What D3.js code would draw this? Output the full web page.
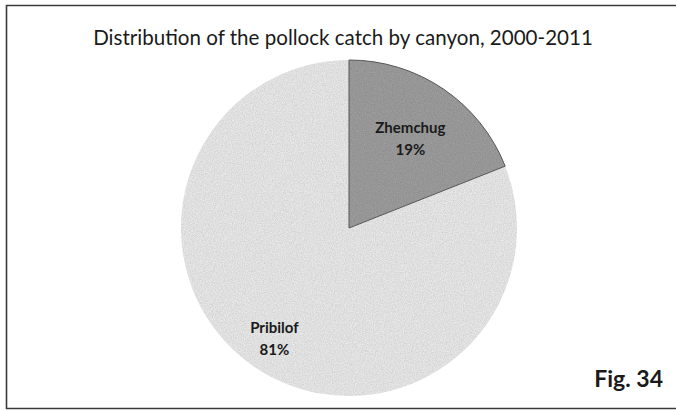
<!DOCTYPE html>
<html>
<head>
<meta charset="utf-8">
<script src="https://cdn.jsdelivr.net/npm/d3@7"></script>
<style>
  html, body { margin: 0; padding: 0; background: #fff; }
  svg { display: block; }
</style>
</head>
<body>
<svg id="chart" width="676" height="411"></svg>
<script>
// Pollock catch share by canyon, 2000-2011
const canyons = ["Zhemchug", "Pribilof"];
const shares = [19, 81];
const sliceColors = ["#9e9e9e", "#eaeaea"];
const chartTitle = "Distribution of the pollock catch by canyon, 2000-2011";
const figureLabel = "Fig. 34";

const W = 676, H = 411;
const svg = d3.select("#chart");
const font = "Lato, 'Open Sans', sans-serif";

// paper-like grain over the pie
const defs = svg.append("defs");
const grain = defs.append("filter").attr("id", "grain")
  .attr("x", 0).attr("y", 0).attr("width", 1).attr("height", 1);
grain.append("feTurbulence").attr("type", "fractalNoise")
  .attr("baseFrequency", 0.9).attr("numOctaves", 2).attr("seed", 4).attr("result", "noise");
grain.append("feColorMatrix").attr("in", "noise").attr("type", "matrix")
  .attr("values", "0 0 0 0 0  0 0 0 0 0  0 0 0 0 0  0 0 0 0.4 -0.1").attr("result", "dots");
grain.append("feComposite").attr("in", "dots").attr("in2", "SourceGraphic").attr("operator", "in").attr("result", "dotsIn");
grain.append("feMerge").selectAll("feMergeNode")
  .data(["SourceGraphic", "dotsIn"]).join("feMergeNode").attr("in", d => d);

// chart frame (right edge runs off the page)
svg.append("path")
  .attr("d", `M ${W + 2} 5.5 H 6.5 V 408.5 H ${W + 2}`)
  .attr("fill", "none").attr("stroke", "#3a3a3a").attr("stroke-width", 1.6);

// title, fitted to its span
const title = svg.append("text")
  .attr("x", 343).attr("y", 45)
  .attr("text-anchor", "middle")
  .attr("font-family", font).attr("font-size", 18).attr("fill", "#1a1a1a")
  .text(chartTitle);
const tw = title.node().getComputedTextLength();
title.attr("font-size", 18 * 500 / tw);

// pie
const cx = 349, cy = 228, R = 168;
const data = canyons.map((c, i) => ({ name: c, value: shares[i], color: sliceColors[i] }));
const pie = d3.pie().value(d => d.value).sort(null);
const arc = d3.arc().innerRadius(0).outerRadius(R);
const arcs = pie(data);

const g = svg.append("g").attr("transform", `translate(${cx},${cy})`);
g.append("g").attr("filter", "url(#grain)")
  .selectAll("path").data(arcs).join("path")
  .attr("d", arc)
  .attr("fill", d => d.data.color);
// darker rim on the small wedge
g.selectAll("path.rim").data(arcs.filter(d => d.index === 0)).join("path")
  .attr("class", "rim")
  .attr("d", arc)
  .attr("fill", "none").attr("stroke", "#555").attr("stroke-width", 1);

// data labels: name and percent, placed along each slice's mid-angle
const labelReach = d => (d.index === 0 ? 0.65 : 0.79) * R;
const labels = g.selectAll("g.lbl").data(arcs).join("g")
  .attr("class", "lbl")
  .attr("transform", d => {
    const r = labelReach(d);
    const [x, y] = d3.arc().innerRadius(r).outerRadius(r).centroid(d);
    return `translate(${x},${y})`;
  });
labels.append("text")
  .attr("text-anchor", "middle").attr("y", -5)
  .attr("font-family", font).attr("font-weight", "bold").attr("font-size", 15)
  .attr("fill", "#1a1a1a")
  .text(d => d.data.name);
labels.append("text")
  .attr("text-anchor", "middle").attr("y", 17)
  .attr("font-family", font).attr("font-weight", "bold").attr("font-size", 15)
  .attr("fill", "#1a1a1a")
  .text(d => d.data.value + "%");

// figure number
svg.append("text")
  .attr("x", 663).attr("y", 387)
  .attr("text-anchor", "end")
  .attr("font-family", font).attr("font-weight", "bold").attr("font-size", 23)
  .attr("fill", "#1a1a1a")
  .text(figureLabel);
</script>
</body>
</html>
